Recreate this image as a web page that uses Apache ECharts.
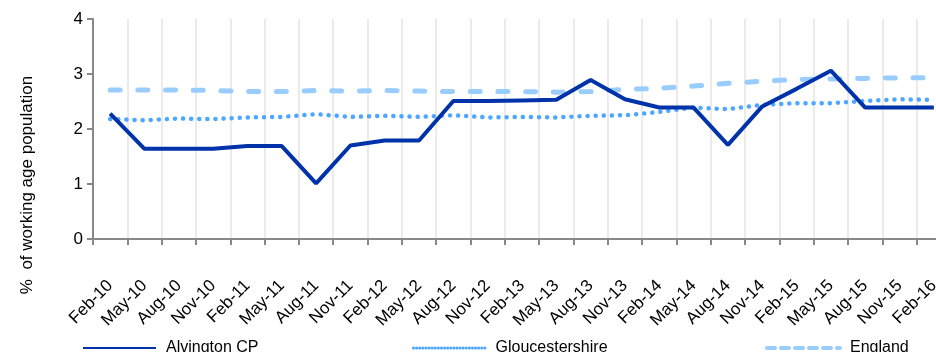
<!DOCTYPE html>
<html><head><meta charset="utf-8">
<script src="https://cdn.jsdelivr.net/npm/echarts@6/dist/echarts.min.js"></script>
<style>html,body{margin:0;padding:0;background:#fff;overflow:hidden}#c{width:936px;height:352px}</style>
</head><body><div id="c"></div>
<script>
const categories = ["Feb-10","May-10","Aug-10","Nov-10","Feb-11","May-11","Aug-11","Nov-11","Feb-12","May-12","Aug-12","Nov-12","Feb-13","May-13","Aug-13","Nov-13","Feb-14","May-14","Aug-14","Nov-14","Feb-15","May-15","Aug-15","Nov-15","Feb-16"];
const alvington = [2.28,1.64,1.64,1.64,1.69,1.69,1.01,1.70,1.79,1.79,2.51,2.51,2.52,2.53,2.89,2.54,2.39,2.39,1.71,2.41,2.73,3.06,2.39,2.39,2.39];
const gloucestershire = [2.18,2.16,2.19,2.18,2.21,2.22,2.27,2.22,2.24,2.22,2.25,2.21,2.22,2.21,2.24,2.25,2.31,2.39,2.36,2.44,2.47,2.47,2.51,2.54,2.53];
const england = [2.71,2.71,2.71,2.70,2.68,2.68,2.70,2.69,2.70,2.69,2.68,2.68,2.68,2.67,2.68,2.72,2.74,2.78,2.83,2.87,2.90,2.91,2.92,2.93,2.93];
const yTicks = [0,1,2,3,4];
const seriesNames = ["Alvington CP","Gloucestershire","England"];

const font = "Liberation Sans, Arial, sans-serif";
const chart = echarts.init(document.getElementById('c'), null, {renderer:'canvas'});
const legendText = {fontSize:16, color:'#000', fontFamily:font, padding:[0,0,0,5]};
chart.setOption({
  animation:false,
  grid:{left:93, width:858, top:19, bottom:113, containLabel:false, outerBoundsMode:'none'},
  xAxis:{type:'category', data:categories, boundaryGap:true,
    axisLine:{lineStyle:{color:'#888', width:2}},
    axisTick:{show:true, length:6, lineStyle:{color:'#888', width:2}},
    splitLine:{show:true, lineStyle:{color:'#ebebeb', width:2}},
    axisLabel:{rotate:45, margin:44, fontSize:17, color:'#000', fontFamily:font, interval:0}},
  yAxis:{type:'value', min:yTicks[0], max:yTicks[yTicks.length-1], interval:1,
    axisLine:{show:true, lineStyle:{color:'#888', width:2}},
    axisTick:{show:true, inside:false, length:6, lineStyle:{color:'#888', width:2}},
    splitLine:{show:false},
    axisLabel:{fontSize:17, color:'#000', fontFamily:font, margin:10}},
  legend:[
    {data:[seriesNames[0]], left:77, top:335, itemWidth:73, itemHeight:10, itemStyle:{opacity:0}, textStyle:legendText},
    {data:[seriesNames[1]], left:407, top:335, itemWidth:72, itemHeight:10, itemStyle:{opacity:0}, lineStyle:{width:3, type:[0.1,3]}, textStyle:legendText},
    {data:[seriesNames[2]], left:760, top:335, itemWidth:73, itemHeight:10, itemStyle:{opacity:0}, lineStyle:{width:4, type:[8,6]}, textStyle:legendText}
  ],
  graphic:[{type:'text', x:27, y:185, rotation:Math.PI/2,
    style:{text:'%  of working age population', fontSize:17, fill:'#000', fontFamily:font, align:'center', verticalAlign:'middle'}}],
  series:[
    {name:seriesNames[2], type:'line', data:england, symbol:'none', z:1,
      lineStyle:{color:'#99ccff', width:5, type:[10,17.7], cap:'round'}, itemStyle:{color:'#99ccff'}},
    {name:seriesNames[1], type:'line', data:gloucestershire, symbol:'none', z:2,
      lineStyle:{color:'#4da6ff', width:4.5, type:[0.1,8], cap:'round'}, itemStyle:{color:'#4da6ff'}},
    {name:seriesNames[0], type:'line', data:alvington, symbol:'none', z:3,
      lineStyle:{color:'#0033aa', width:4}, itemStyle:{color:'#0033aa'}}
  ]
});
</script></body></html>
